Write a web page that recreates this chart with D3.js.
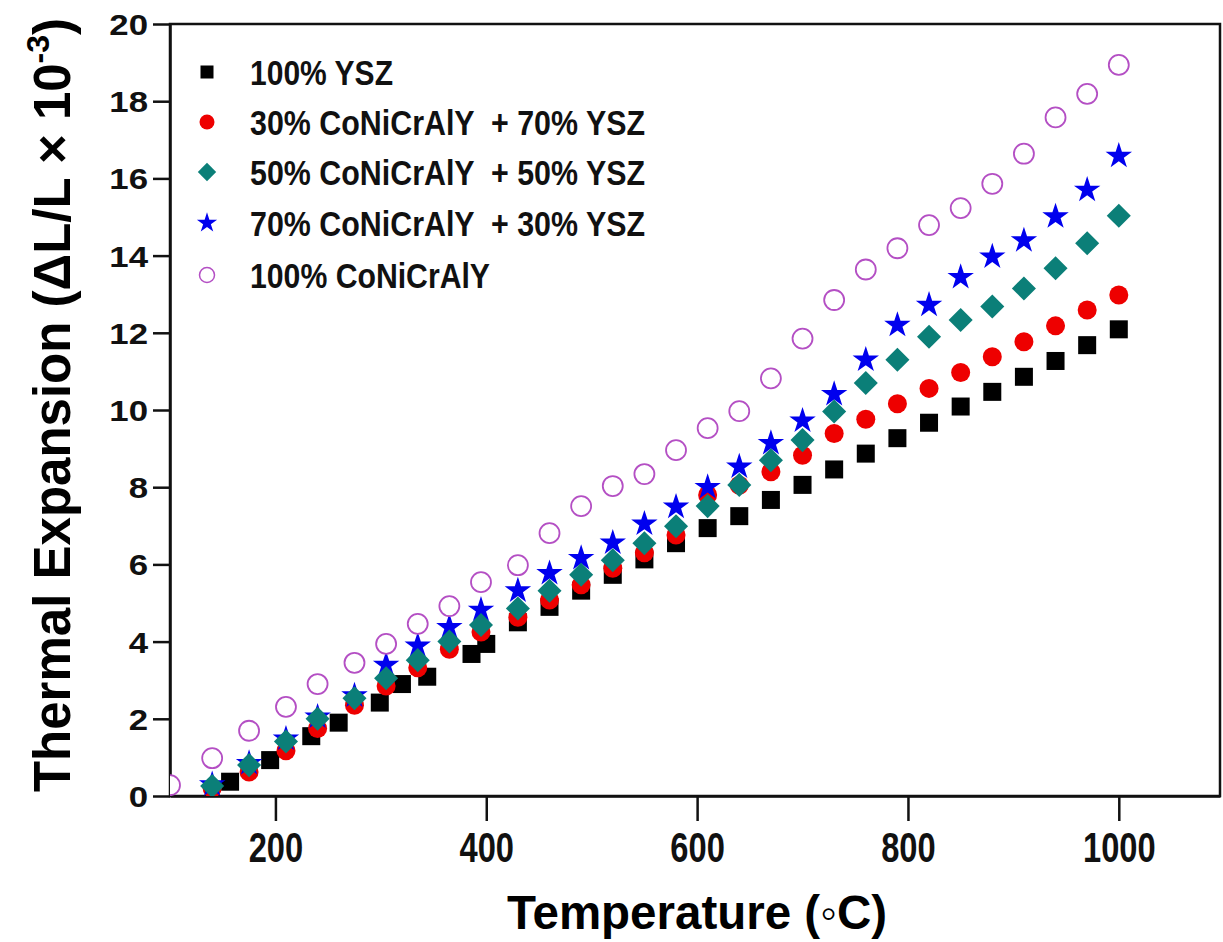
<!DOCTYPE html>
<html>
<head>
  <script src="https://cdnjs.cloudflare.com/ajax/libs/d3/7.8.5/d3.min.js"></script>
  <style>
    body {
      margin: 0;
      background: white;
      font-family: "Liberation Sans", Arial, sans-serif;
    }
    .axis path, .axis line {
      stroke: #111;
      stroke-width: 2.5px;
    }
    .tick-label {
      font-weight: bold;
      fill: #111;
    }
    .legend text {
      font-size: 35px;
      font-weight: bold;
      fill: #111;
      white-space: pre;
    }
  </style>
</head>
<body>
  <div id="chart"></div>

  <script>
    // temperatures (deg C)
    const yszTemps = [157, 195, 234, 260, 299, 320, 344, 386, 400, 430, 460, 490, 520, 550, 580, 610, 640, 670, 700, 730, 760, 790, 820, 850, 880, 910, 940, 970, 1000];
    const mixTemps = [140, 175, 210, 240, 275, 305, 335, 365, 395, 430, 460, 490, 520, 550, 580, 610, 640, 670, 700, 730, 760, 790, 820, 850, 880, 910, 940, 970, 1000];
    const bondTemps = [100, 140, 175, 210, 240, 275, 305, 335, 365, 395, 430, 460, 490, 520, 550, 580, 610, 640, 670, 700, 730, 760, 790, 820, 850, 880, 910, 940, 970, 1000];

    // thermal expansion dL/L x 10^-3
    const ysz100 = [0.37, 0.93, 1.55, 1.90, 2.42, 2.90, 3.09, 3.68, 3.94, 4.50, 4.90, 5.32, 5.73, 6.13, 6.55, 6.94, 7.25, 7.67, 8.06, 8.46, 8.87, 9.27, 9.67, 10.09, 10.47, 10.86, 11.27, 11.68, 12.09];
    const mix30 = [0.20, 0.62, 1.17, 1.75, 2.35, 2.85, 3.32, 3.80, 4.25, 4.63, 5.08, 5.47, 5.90, 6.30, 6.76, 7.80, 8.05, 8.40, 8.83, 9.39, 9.76, 10.16, 10.56, 10.97, 11.38, 11.77, 12.18, 12.59, 12.98];
    const mix50 = [0.26, 0.80, 1.41, 2.00, 2.53, 3.05, 3.52, 4.00, 4.43, 4.86, 5.32, 5.73, 6.11, 6.55, 6.99, 7.51, 8.06, 8.70, 9.22, 9.96, 10.70, 11.30, 11.90, 12.33, 12.68, 13.15, 13.67, 14.32, 15.03];
    const mix70 = [0.30, 0.85, 1.48, 2.05, 2.60, 3.39, 3.89, 4.37, 4.82, 5.32, 5.77, 6.16, 6.56, 7.05, 7.49, 8.00, 8.53, 9.14, 9.72, 10.41, 11.30, 12.20, 12.72, 13.44, 13.97, 14.39, 15.01, 15.70, 16.58];
    const bond100 = [0.28, 0.98, 1.69, 2.31, 2.90, 3.45, 3.94, 4.46, 4.92, 5.54, 5.98, 6.81, 7.51, 8.03, 8.34, 8.96, 9.53, 9.97, 10.82, 11.85, 12.85, 13.64, 14.19, 14.79, 15.23, 15.86, 16.64, 17.58, 18.19, 18.94];

    const legendLabels = ["100% YSZ", "30% CoNiCrAlY  + 70% YSZ", "50% CoNiCrAlY  + 50% YSZ", "70% CoNiCrAlY  + 30% YSZ", "100% CoNiCrAlY"];
    const xTicks = [200, 400, 600, 800, 1000];
    const yTicks = [0, 2, 4, 6, 8, 10, 12, 14, 16, 18, 20];

    const series = [
      { name: legendLabels[0], temps: yszTemps, values: ysz100, shape: "square", fill: "#000", stroke: "none" },
      { name: legendLabels[1], temps: mixTemps, values: mix30, shape: "circle", fill: "#ee0000", stroke: "none" },
      { name: legendLabels[3], temps: mixTemps, values: mix70, shape: "star", fill: "#0000ee", stroke: "none" },
      { name: legendLabels[2], temps: mixTemps, values: mix50, shape: "diamond", fill: "#0b7f78", stroke: "none" },
      { name: legendLabels[4], temps: bondTemps, values: bond100, shape: "open", fill: "#fff", stroke: "#b44fc4" }
    ];
    const legendOrder = [0, 1, 3, 2, 4];

    const width = 1223;
    const height = 942;
    const margin = { left: 170, right: 3, top: 24, bottom: 146 };

    const svg = d3.select("#chart")
      .append("svg")
      .attr("width", width)
      .attr("height", height);

    const x = d3.scaleLinear().domain([100, 1096]).range([margin.left, width - margin.right]);
    const y = d3.scaleLinear().domain([0, 20]).range([height - margin.bottom, margin.top]);

    // frame
    svg.append("rect")
      .attr("x", x.range()[0])
      .attr("y", y.range()[1])
      .attr("width", x.range()[1] - x.range()[0])
      .attr("height", y.range()[0] - y.range()[1])
      .attr("fill", "none")
      .attr("stroke", "#111")
      .attr("stroke-width", 2.5);

    const xAxis = svg.append("g")
      .attr("class", "axis")
      .attr("transform", `translate(0,${y(0)})`)
      .call(d3.axisBottom(x).tickValues(xTicks).tickFormat(d3.format("d"))
        .tickSize(25).tickSizeOuter(0).tickPadding(10));
    xAxis.selectAll("text")
      .attr("class", "tick-label")
      .style("font-size", "43px")
      .attr("transform", "scale(0.76,1)");

    const yAxis = svg.append("g")
      .attr("class", "axis")
      .attr("transform", `translate(${x(100)},0)`)
      .call(d3.axisLeft(y).tickValues(yTicks).tickSize(17).tickSizeOuter(0).tickPadding(8));
    yAxis.selectAll("text")
      .attr("class", "tick-label")
      .style("font-size", "29px")
      .attr("dy", "0.36em")
      .attr("transform", "scale(1.2,1)");
    yAxis.selectAll("text").attr("x", -22 / 1.2);

    // axis titles
    svg.append("text")
      .attr("x", 697)
      .attr("y", 929)
      .attr("text-anchor", "middle")
      .style("font-size", "48px")
      .style("font-weight", "bold")
      .attr("textLength", 380)
      .attr("lengthAdjust", "spacingAndGlyphs")
      .text("Temperature (\u25E6C)");

    const yTitle = svg.append("text")
      .attr("transform", "translate(70,405) rotate(-90)")
      .attr("text-anchor", "middle")
      .style("font-size", "51px")
      .style("font-weight", "bold");
    yTitle.append("tspan").text("Thermal Expansion (\u0394L/L \u00D7 10");
    yTitle.append("tspan").attr("dy", -21).style("font-size", "32px").text("-3");
    yTitle.append("tspan").attr("dy", 21).text(")");

    // markers
    const star = d3.symbol().type(d3.symbolStar);
    function drawMarker(g, shape, s) {
      if (shape === "square") {
        g.append("rect").attr("x", -s / 2).attr("y", -s / 2).attr("width", s).attr("height", s);
      } else if (shape === "diamond") {
        g.append("rect").attr("x", -s / 2).attr("y", -s / 2).attr("width", s).attr("height", s)
          .attr("transform", "rotate(45)");
      } else if (shape === "star") {
        g.append("path").attr("d", star.size(s * s * 0.75)());
      } else {
        g.append("circle").attr("r", s / 2);
      }
    }

    const sizes = { square: 18, circle: 19, star: 17, diamond: 17, open: 20 };

    const plot = svg.append("g");
    svg.append("clipPath").attr("id", "clip")
      .append("rect")
      .attr("x", x.range()[0]).attr("y", y.range()[1])
      .attr("width", x.range()[1] - x.range()[0])
      .attr("height", y.range()[0] - y.range()[1]);
    plot.attr("clip-path", "url(#clip)");

    series.forEach(s => {
      const pts = s.temps.map((t, i) => ({ t: t, v: s.values[i] }));
      const grp = plot.append("g")
        .attr("fill", s.fill)
        .attr("stroke", s.stroke)
        .attr("stroke-width", 1.8);
      grp.selectAll("g")
        .data(pts)
        .enter()
        .append("g")
        .attr("transform", d => `translate(${x(d.t)},${y(d.v)})`)
        .each(function() { drawMarker(d3.select(this), s.shape, sizes[s.shape]); });
    });

    // legend
    const legend = svg.append("g").attr("class", "legend");
    const legendSizes = { square: 13, circle: 15, star: 13, diamond: 13, open: 15 };
    const legendY = [72, 122, 172, 223, 275];
    const legendWidths = [143, 395, 395, 395, 240];
    legendOrder.forEach((si, row) => {
      const s = series[si];
      const item = legend.append("g").attr("transform", `translate(207,${legendY[row]})`);
      const m = item.append("g").attr("fill", s.fill).attr("stroke", s.stroke).attr("stroke-width", 1.5);
      drawMarker(m, s.shape, legendSizes[s.shape]);
      item.append("text")
        .attr("x", 43)
        .attr("dy", "0.36em")
        .attr("textLength", legendWidths[row])
        .attr("lengthAdjust", "spacingAndGlyphs")
        .text(s.name);
    });
  </script>
</body>
</html>
